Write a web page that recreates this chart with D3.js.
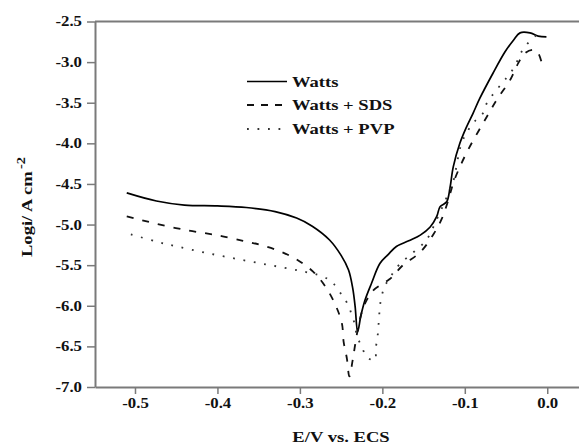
<!DOCTYPE html>
<html>
<head>
<meta charset="utf-8">
<script src="https://cdn.jsdelivr.net/npm/d3@7"></script>
<style>
  html, body { margin: 0; padding: 0; background: #fff; }
  svg { display: block; }
  text { font-family: "Liberation Serif", "Times New Roman", serif; font-weight: bold; fill: #111; }
</style>
</head>
<body>
<svg id="chart" width="579" height="446"></svg>
<script>
// Polarization curves: potential (V vs. ECS) and log current density
const wattsE = [-0.510, -0.474, -0.440, -0.400, -0.365, -0.330, -0.304, -0.285, -0.264, -0.250, -0.241, -0.236, -0.233, -0.230, -0.226, -0.221, -0.213, -0.203, -0.193, -0.183, -0.168, -0.154, -0.142, -0.134, -0.130, -0.122, -0.118, -0.114, -0.106, -0.098, -0.090, -0.082, -0.066, -0.051, -0.041, -0.033, -0.021, -0.011, -0.001];
const wattsLogI = [-4.61, -4.71, -4.76, -4.77, -4.79, -4.84, -4.92, -5.02, -5.19, -5.38, -5.56, -5.78, -6.01, -6.32, -6.12, -5.93, -5.72, -5.48, -5.37, -5.27, -5.20, -5.13, -5.03, -4.90, -4.78, -4.72, -4.55, -4.29, -4.00, -3.80, -3.63, -3.45, -3.14, -2.87, -2.73, -2.64, -2.64, -2.68, -2.69];

const sdsE = [-0.510, -0.494, -0.474, -0.437, -0.401, -0.369, -0.348, -0.324, -0.304, -0.284, -0.268, -0.256, -0.249, -0.247, -0.243, -0.240, -0.236, -0.233, -0.229, -0.224, -0.219, -0.211, -0.200, -0.191, -0.175, -0.154, -0.138, -0.128, -0.120, -0.114, -0.106, -0.096, -0.084, -0.072, -0.061, -0.045, -0.035, -0.027, -0.017, -0.011, -0.005];
const sdsLogI = [-4.90, -4.94, -4.99, -5.07, -5.13, -5.20, -5.25, -5.33, -5.43, -5.58, -5.78, -6.01, -6.22, -6.44, -6.65, -6.87, -6.67, -6.48, -6.25, -6.05, -5.93, -5.81, -5.73, -5.67, -5.50, -5.34, -5.12, -4.93, -4.70, -4.49, -4.29, -4.08, -3.86, -3.65, -3.46, -3.22, -3.01, -2.89, -2.85, -2.89, -3.08];

const pvpE = [-0.505, -0.474, -0.449, -0.413, -0.373, -0.336, -0.300, -0.272, -0.260, -0.249, -0.241, -0.237, -0.233, -0.231, -0.225, -0.219, -0.209, -0.208, -0.206, -0.205, -0.204, -0.203, -0.201, -0.197, -0.190, -0.180, -0.167, -0.152, -0.144, -0.136, -0.127, -0.118, -0.114, -0.104, -0.096, -0.088, -0.078, -0.0735, -0.055, -0.045, -0.037, -0.031, -0.022, -0.009];
const pvpLogI = [-5.12, -5.21, -5.27, -5.35, -5.43, -5.50, -5.57, -5.64, -5.72, -5.87, -6.00, -6.12, -6.24, -6.37, -6.50, -6.63, -6.67, -6.52, -6.40, -6.28, -6.15, -6.01, -5.89, -5.76, -5.64, -5.50, -5.38, -5.25, -5.15, -4.98, -4.78, -4.57, -4.47, -4.00, -3.84, -3.73, -3.63, -3.51, -3.26, -3.14, -3.00, -2.87, -2.75, -2.63];

const seriesNames = ["Watts", "Watts + SDS", "Watts + PVP"];
const xTicks = [-0.5, -0.4, -0.3, -0.2, -0.1, 0.0];
const yTicks = [-2.5, -3.0, -3.5, -4.0, -4.5, -5.0, -5.5, -6.0, -6.5, -7.0];

const svg = d3.select("#chart");
const W = 579;
const plotLeft = 95, plotTop = 21.5, plotBottom = 387;

const x = d3.scaleLinear().domain([-0.5485, 0.0385]).range([plotLeft, W]);
const y = d3.scaleLinear().domain([-7.0, -2.5]).range([plotBottom, plotTop]);

const axisColor = "#7a7a7a";
const stretch = "scale(1.2,1)";
const fmt = d => d.toFixed(1);   // plain hyphen for negatives

// x axis
const gx = svg.append("g").attr("transform", `translate(0,${plotBottom})`)
  .call(d3.axisBottom(x).tickValues(xTicks).tickSize(7).tickSizeOuter(0).tickFormat(fmt));
gx.select(".domain").attr("stroke", axisColor).attr("stroke-width", 2);
gx.selectAll(".tick line").attr("stroke", axisColor).attr("stroke-width", 1.5);
gx.selectAll(".tick text")
  .attr("y", 0).attr("dy", null)
  .attr("transform", `translate(0,21) ${stretch}`)
  .style("font-size", "14px").style("font-family", "Liberation Serif").style("font-weight", "bold").attr("fill", "#111");

// y axis
const gy = svg.append("g").attr("transform", `translate(${plotLeft},0)`)
  .call(d3.axisLeft(y).tickValues(yTicks).tickSize(8).tickSizeOuter(0).tickFormat(fmt));
gy.select(".domain").attr("stroke", axisColor).attr("stroke-width", 2);
gy.selectAll(".tick line").attr("stroke", axisColor).attr("stroke-width", 1.5);
gy.selectAll(".tick text")
  .attr("x", 0)
  .attr("transform", `translate(-13,0) ${stretch}`)
  .style("font-size", "14px").style("font-family", "Liberation Serif").style("font-weight", "bold").attr("fill", "#111");

// top frame edge
svg.append("line")
  .attr("x1", plotLeft).attr("x2", W).attr("y1", plotTop).attr("y2", plotTop)
  .attr("stroke", axisColor).attr("stroke-width", 2);

// axis titles
svg.append("text")
  .attr("transform", `translate(341,442) ${stretch}`)
  .attr("text-anchor", "middle")
  .style("font-size", "15.5px")
  .text("E/V vs. ECS");

const yTitle = svg.append("text")
  .attr("transform", `translate(32,207) rotate(-90) ${stretch}`)
  .attr("text-anchor", "middle")
  .style("font-size", "15.5px");
yTitle.append("tspan").text("Logi/ A cm");
yTitle.append("tspan").attr("dy", -7).attr("dx", 2).style("font-size", "12px").text("-2");

// curves
const line = d3.line().x(d => x(d[0])).y(d => y(d[1])).curve(d3.curveCatmullRom.alpha(0.5));
const styles = [
  { dash: null, color: "#000", width: 1.7 },
  { dash: "7,9", color: "#111", width: 1.8 },
  { dash: "1.8,8.7", color: "#333", width: 1.8 }
];
const series = [
  d3.zip(wattsE, wattsLogI),
  d3.zip(sdsE, sdsLogI),
  d3.zip(pvpE, pvpLogI)
];
series.forEach((pts, i) => {
  svg.append("path")
    .attr("d", line(pts))
    .attr("fill", "none")
    .attr("stroke", styles[i].color)
    .attr("stroke-width", styles[i].width)
    .attr("stroke-dasharray", styles[i].dash);
});

// legend
const legendY = [81.5, 105, 129];
seriesNames.forEach((name, i) => {
  svg.append("line")
    .attr("x1", 247).attr("x2", 287)
    .attr("y1", legendY[i]).attr("y2", legendY[i])
    .attr("stroke", styles[i].color)
    .attr("stroke-width", styles[i].width)
    .attr("stroke-dasharray", styles[i].dash === "7,9" ? "7,7" : styles[i].dash);
  svg.append("text")
    .attr("transform", `translate(292,${legendY[i] + 5}) ${stretch}`)
    .style("font-size", "15.5px")
    .text(name);
});
</script>
</body>
</html>
